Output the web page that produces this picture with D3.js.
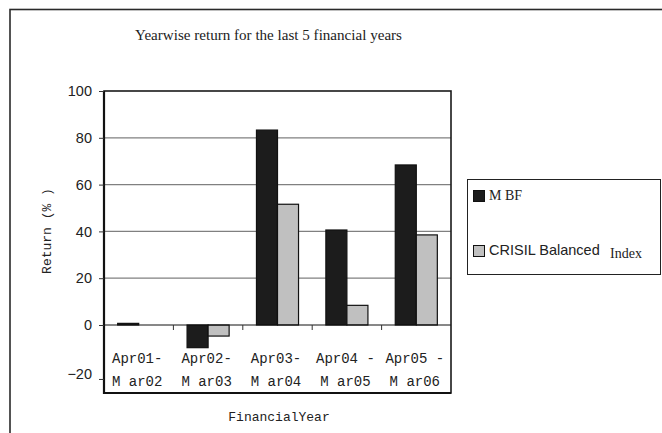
<!DOCTYPE html>
<html>
<head>
<meta charset="utf-8">
<script src="https://cdn.jsdelivr.net/npm/d3@7"></script>
<style>
  html, body { margin: 0; padding: 0; background: #fff; overflow: hidden; }
  svg { display: block; }
</style>
</head>
<body>
<svg id="chart" width="662" height="433"></svg>
<script>
// Financial-year returns for the fund and its benchmark
const categories = [["Apr01-", "M ar02"], ["Apr02-", "M ar03"], ["Apr03-", "M ar04"], ["Apr04 -", "M ar05"], ["Apr05 -", "M ar06"]];
const seriesNames = ["M BF", "CRISIL Balanced"];
const mbfValues = [0.7, -8.4, 83.3, 40.6, 68.4];
const crisilValues = [null, -4.1, 51.6, 8.4, 38.5];
const yTicks = [-20, 0, 20, 40, 60, 80, 100];
const seriesColors = ["#1c1c1c", "#c0c0c0"];

const svg = d3.select("#chart");
const plot = { left: 104, right: 451, top: 91, bottom: 393 };

// outer chart frame
svg.append("rect")
  .attr("x", 10).attr("y", 9.5)
  .attr("width", 700).attr("height", 460)
  .attr("fill", "none").attr("stroke", "#2a2a2a").attr("stroke-width", 1.6);

// title
svg.append("text")
  .attr("x", 135).attr("y", 40)
  .attr("font-family", "Liberation Serif")
  .attr("font-size", 14)
  .attr("fill", "#222")
  .attr("textLength", 267)
  .attr("lengthAdjust", "spacingAndGlyphs")
  .text("Yearwise return for the last 5 financial years");

// scales: the value axis is stretched a bit below zero
const y = d3.scaleLinear()
  .domain([-25.2, 0, 100])
  .range([plot.bottom, 325, plot.top]);

const x0 = d3.scaleBand()
  .domain(d3.range(categories.length))
  .range([plot.left, plot.right])
  .padding(0);

const x1 = d3.scaleBand()
  .domain([0, 1])
  .range([0, x0.bandwidth()])
  .paddingInner(0)
  .paddingOuter(0.65);

// gridlines
svg.append("g")
  .selectAll("line")
  .data(yTicks.filter(d => d > 0 && d < 100))
  .join("line")
  .attr("x1", plot.left).attr("x2", plot.right)
  .attr("y1", d => y(d)).attr("y2", d => y(d))
  .attr("stroke", "#808080").attr("stroke-width", 1.3);

// bars
const rows = categories.map((c, i) => [mbfValues[i], crisilValues[i]]);
const groups = svg.append("g")
  .selectAll("g")
  .data(rows)
  .join("g")
  .attr("transform", (d, i) => `translate(${x0(i)},0)`);

groups.selectAll("rect")
  .data(d => d.map((v, s) => ({ v, s })).filter(e => e.v !== null))
  .join("rect")
  .attr("x", d => x1(d.s))
  .attr("width", x1.bandwidth())
  .attr("y", d => y(Math.max(0, d.v)))
  .attr("height", d => Math.abs(y(d.v) - y(0)))
  .attr("fill", d => seriesColors[d.s])
  .attr("stroke", "#111")
  .attr("stroke-width", 1.2);

// zero line with category tick marks
svg.append("line")
  .attr("x1", plot.left).attr("x2", plot.right)
  .attr("y1", y(0)).attr("y2", y(0))
  .attr("stroke", "#111").attr("stroke-width", 1);

svg.append("g")
  .selectAll("line")
  .data(d3.range(1, categories.length))
  .join("line")
  .attr("x1", i => x0(i)).attr("x2", i => x0(i))
  .attr("y1", y(0)).attr("y2", y(0) + 5)
  .attr("stroke", "#333").attr("stroke-width", 1);

// plot area border
svg.append("rect")
  .attr("x", plot.left).attr("y", plot.top)
  .attr("width", plot.right - plot.left).attr("height", plot.bottom - plot.top)
  .attr("fill", "none").attr("stroke", "#1a1a1a").attr("stroke-width", 1.6);
svg.append("line")
  .attr("x1", plot.left).attr("x2", plot.left)
  .attr("y1", plot.top).attr("y2", plot.bottom + 1)
  .attr("stroke", "#111").attr("stroke-width", 2.2);
svg.append("line")
  .attr("x1", plot.left).attr("x2", plot.right)
  .attr("y1", plot.bottom).attr("y2", plot.bottom)
  .attr("stroke", "#111").attr("stroke-width", 2.2);

// value axis
const yAxis = d3.axisLeft(y).tickValues(yTicks).tickSize(5).tickPadding(7).tickFormat(d3.format("d"));
const yg = svg.append("g")
  .attr("transform", `translate(${plot.left},0)`)
  .call(yAxis);
yg.select(".domain").remove();
yg.selectAll(".tick line").attr("stroke", "#333");
yg.selectAll(".tick text")
  .attr("font-family", "Liberation Sans")
  .attr("font-size", 14.5)
  .attr("fill", "#222")
  .attr("dy", d => d === -20 ? "-0.05em" : "0.32em");

// category labels (two lines each)
const labels = svg.append("g")
  .selectAll("text")
  .data(categories)
  .join("text")
  .attr("text-anchor", "middle")
  .attr("font-family", "Liberation Mono")
  .attr("font-size", 14)
  .attr("fill", "#222");
labels.each(function (d, i) {
  const t = d3.select(this);
  const cx = x0(i) + x0.bandwidth() / 2 - 1.5;
  t.append("tspan").attr("x", cx).attr("y", 363).text(d[0]);
  t.append("tspan").attr("x", cx).attr("y", 386).text(d[1]);
});

// axis titles
svg.append("text")
  .attr("x", 279).attr("y", 421)
  .attr("text-anchor", "middle")
  .attr("font-family", "Liberation Mono")
  .attr("font-size", 13)
  .attr("fill", "#222")
  .text("FinancialYear");

svg.append("text")
  .attr("transform", "translate(51,231) rotate(-90)")
  .attr("text-anchor", "middle")
  .attr("font-family", "Liberation Mono")
  .attr("font-size", 13)
  .attr("fill", "#222")
  .text("Return (% )");

// legend
const legend = svg.append("g");
legend.append("rect")
  .attr("x", 467.5).attr("y", 179.5)
  .attr("width", 193).attr("height", 95)
  .attr("fill", "#fff").attr("stroke", "#222").attr("stroke-width", 1);

const legendRows = [
  { y: 190, name: seriesNames[0], font: "Liberation Serif", size: 14, extra: null },
  { y: 245, name: seriesNames[1], font: "Liberation Sans", size: 14.5, extra: "Index" }
];
legendRows.forEach((r, s) => {
  legend.append("rect")
    .attr("x", 473.5).attr("y", r.y + 0.5)
    .attr("width", 11).attr("height", 11)
    .attr("fill", seriesColors[s]).attr("stroke", "#111").attr("stroke-width", 1);
  legend.append("text")
    .attr("x", 489).attr("y", r.y + 10)
    .attr("font-family", r.font)
    .attr("font-size", r.size)
    .attr("fill", "#222")
    .text(r.name);
  if (r.extra) {
    legend.append("text")
      .attr("x", 610).attr("y", r.y + 13)
      .attr("font-family", "Liberation Serif")
      .attr("font-size", 14)
      .attr("fill", "#222")
      .text(r.extra);
  }
});
</script>
</body>
</html>
